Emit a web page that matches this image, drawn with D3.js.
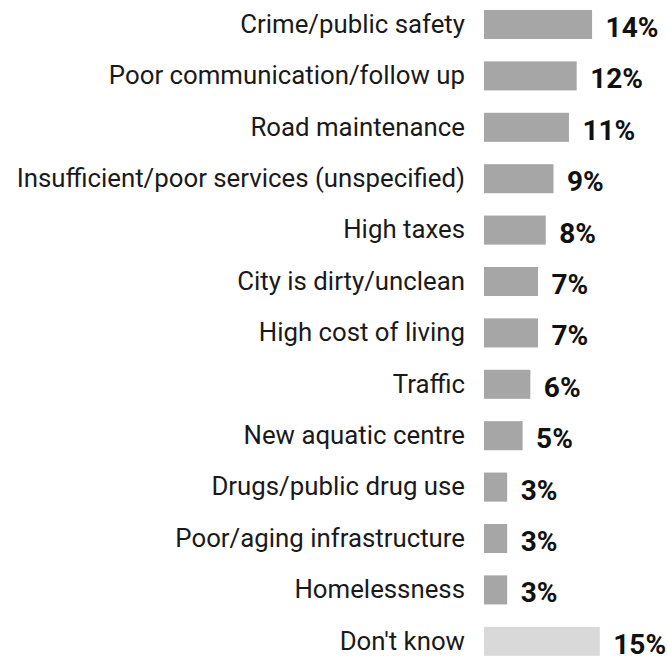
<!DOCTYPE html>
<html>
<head>
<meta charset="utf-8">
<script src="https://cdn.jsdelivr.net/npm/d3@7"></script>
<style>
  html, body { margin: 0; padding: 0; background: #fff; }
  svg { display: block; }
</style>
</head>
<body>
<svg id="chart" width="668" height="656"></svg>
<script>
// Top concerns, share of respondents (%)
const categories = [
  "Crime/public safety",
  "Poor communication/follow up",
  "Road maintenance",
  "Insufficient/poor services (unspecified)",
  "High taxes",
  "City is dirty/unclean",
  "High cost of living",
  "Traffic",
  "New aquatic centre",
  "Drugs/public drug use",
  "Poor/aging infrastructure",
  "Homelessness",
  "Don't know"
];
const values = [14, 12, 11, 9, 8, 7, 7, 6, 5, 3, 3, 3, 15];
const valueLabels = ["14%", "12%", "11%", "9%", "8%", "7%", "7%", "6%", "5%", "3%", "3%", "3%", "15%"];
const mutedCategories = ["Don't know"];

const rows = categories.map((c, i) => ({ category: c, value: values[i], label: valueLabels[i] }));

const svg = d3.select("#chart");
const barLeft = 484;

const x = d3.scaleLinear().domain([0, 15]).range([barLeft, barLeft + 115.8]);
const y = d3.scaleBand()
  .domain(categories)
  .range([-1.2, 667])
  .paddingInner(0.435)
  .paddingOuter(0.2175);

const fontFamily = "Roboto, 'Noto Sans', sans-serif";

// Category labels, right-aligned next to the bars
svg.append("g")
  .selectAll("text")
  .data(rows)
  .join("text")
  .attr("x", 465)
  .attr("y", d => y(d.category) + y.bandwidth() / 2)
  .attr("dy", "0.32em")
  .attr("text-anchor", "end")
  .attr("font-family", fontFamily)
  .attr("font-size", 25.8)
  .attr("fill", "#1a1a1a")
  .text(d => d.category);

// Bars
svg.append("g")
  .selectAll("rect")
  .data(rows)
  .join("rect")
  .attr("x", x(0))
  .attr("y", d => y(d.category))
  .attr("width", d => x(d.value) - x(0))
  .attr("height", y.bandwidth())
  .attr("fill", d => mutedCategories.includes(d.category) ? "#d9d9d9" : "#a6a6a6");

// Value labels
svg.append("g")
  .selectAll("text")
  .data(rows)
  .join("text")
  .attr("x", d => x(d.value) + 13.5)
  .attr("y", d => y(d.category) + y.bandwidth() / 2 + 2.5)
  .attr("dy", "0.36em")
  .attr("font-family", fontFamily)
  .attr("font-size", 28)
  .attr("font-weight", 700)
  .attr("fill", "#111")
  .text(d => d.label);
</script>
</body>
</html>
